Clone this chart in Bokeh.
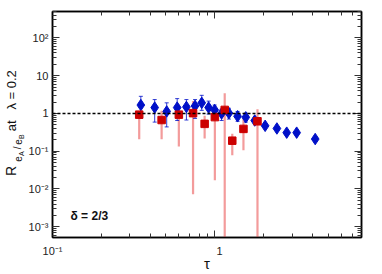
import math
from bokeh.plotting import figure
from bokeh.layouts import row
from bokeh.models import (ColumnDataSource, Range1d, FixedTicker, LogAxis, Label, Span)
from bokeh.core.properties import value
from bokeh.embed import file_html
from bokeh.resources import INLINE

# ---- data ----
blue_x = [0.35, 0.426, 0.505, 0.586, 0.668, 0.755, 0.83, 0.915, 0.997, 1.10,
          1.22, 1.38, 1.55, 1.76, 2.04, 2.41, 2.77, 3.19, 4.15]
blue_y = [1.67, 1.43, 1.13, 1.43, 1.49, 1.58, 1.91, 1.43, 1.24, 1.00,
          1.02, 0.84, 0.79, 0.65, 0.47, 0.40, 0.31, 0.31, 0.21]
blue_hi = [2.84, 2.33, 1.91, 2.47, 2.33, 2.33, 3.02, 2.12, 1.67, 1.29,
           1.37, 1.13, 1.02, 0.79, 0.52, 0.44, 0.34, 0.34, 0.23]
blue_lo = [0.74, 0.59, 0.44, 0.65, 0.67, 0.74, 1.21, 0.96, 0.79, 0.65,
           0.71, 0.62, 0.59, 0.53, 0.43, 0.36, 0.28, 0.28, 0.19]

red_x = [0.342, 0.47, 0.60, 0.734, 0.865, 1.0, 1.15, 1.28, 1.50, 1.83]
red_y = [0.93, 0.67, 0.93, 1.02, 0.53, 0.80, 1.24, 0.19, 0.39, 0.62]
red_hi = [1.15, 1.17, 1.73, 2.12, 0.87, 1.10, 3.45, 0.29, 0.75, 1.29]
red_lo = [0.207, 0.207, 0.134, 0.0073, 0.216, 0.017, 1e-6, 0.078, 0.106, 1e-6]

y_major = [1e-3, 1e-2, 1e-1, 1.0, 10.0, 100.0]
y_labels = ["10\u207b\u00b3", "10\u207b\u00b2", "10\u207b\u00b9", "1", "10", "10\u00b2"]
x_major = [0.1, 1.0]
x_labels = ["10\u207b\u00b9", "\u00a0\u00a0\u00a01"]

X_MIN, X_MAX = 0.1, 8.0
Y_MIN, Y_MAX = 5.2e-4, 500.0

def minors(lo, hi):
    out = []
    for d in range(int(math.floor(math.log10(lo))) - 1, int(math.ceil(math.log10(hi))) + 1):
        for k in range(2, 10):
            v = k * 10 ** d
            if lo <= v <= hi:
                out.append(v)
    return out

FONT = "Liberation Sans"
W, H = 382, 274
LW = 25            # width of the strip holding the y title
F_TOP, F_BOT = 11, 244   # frame top / bottom in page pixels

p = figure(width=W - LW, height=H, x_axis_type="log", y_axis_type="log",
           x_range=Range1d(X_MIN, X_MAX), y_range=Range1d(Y_MIN, Y_MAX),
           output_backend="svg", toolbar_location=None,
           min_border_left=49 - LW, min_border_right=21,
           min_border_top=F_TOP, min_border_bottom=H - F_BOT)
p.grid.visible = False
p.outline_line_color = "black"
p.outline_line_width = 1.5

xt = FixedTicker(ticks=x_major, minor_ticks=minors(X_MIN, X_MAX))
yt = FixedTicker(ticks=y_major, minor_ticks=minors(Y_MIN, Y_MAX))

def style(ax, labels=True):
    ax.axis_line_color = "black"
    ax.axis_line_width = 1.5
    ax.major_tick_in = 7
    ax.major_tick_out = 0
    ax.minor_tick_in = 4
    ax.minor_tick_out = 0
    ax.major_tick_line_color = "#333333"
    ax.minor_tick_line_color = "#333333"
    if labels:
        ax.major_label_text_font = FONT
        ax.major_label_text_font_size = "11px"
        ax.major_label_text_color = "#222222"
    else:
        ax.major_label_text_font_size = "1px"
        ax.major_label_text_color = None
        ax.major_label_standoff = 0

p.xaxis.ticker = xt
p.yaxis.ticker = yt
p.xaxis.major_label_overrides = {v: s for v, s in zip(x_major, x_labels)}
p.yaxis.major_label_overrides = {v: s for v, s in zip(y_major, y_labels)}
style(p.xaxis[0])
style(p.yaxis[0])
p.xaxis.major_label_standoff = 7
p.yaxis.major_label_standoff = 4
p.xaxis.axis_label = "\u03c4"
p.xaxis.axis_label_text_font = FONT
p.xaxis.axis_label_text_font_size = "15px"
p.xaxis.axis_label_text_font_style = "normal"
p.xaxis.axis_label_text_color = "#111111"
p.xaxis.axis_label_standoff = -5

top = LogAxis(ticker=xt)
style(top, labels=False)
p.add_layout(top, "above")
right = LogAxis(ticker=yt)
style(right, labels=False)
p.add_layout(right, "right")

# reference line at 1
p.add_layout(Span(location=1.0, dimension="width", line_color="black",
                  line_dash="3 2", line_width=1.5))

bsrc = ColumnDataSource(dict(x=blue_x, y=blue_y, hi=blue_hi, lo=blue_lo))
rsrc = ColumnDataSource(dict(x=red_x, y=red_y, hi=red_hi, lo=red_lo))

BLUE = "#0010c8"
RED = "#cc0000"

p.segment(x0="x", y0="lo", x1="x", y1="hi", source=rsrc, line_color="#ee7070",
          line_width=2.2, line_alpha=0.7)
p.segment(x0="x", y0="lo", x1="x", y1="hi", source=bsrc, line_color=BLUE,
          line_width=1, line_alpha=0.8)
p.scatter(x="x", y="hi", source=bsrc, marker="dash", size=4, line_color=BLUE, line_alpha=0.8)
p.scatter(x="x", y="lo", source=bsrc, marker="dash", size=4, line_color=BLUE, line_alpha=0.8)
p.scatter(x="x", y="y", source=bsrc, marker="diamond", size=11.5,
          fill_color=BLUE, line_color=BLUE)
p.scatter(x="x", y="y", source=rsrc, marker="square", size=7.5,
          fill_color=RED, line_color=RED)

p.add_layout(Label(x=18, y=22, x_units="screen", y_units="screen",
                   text="\u03b4 = 2/3", text_baseline="middle",
                   text_font=FONT, text_font_size="12px", text_font_style="bold",
                   text_color="#111111"))

# ---- y title strip: its frame is aligned with the main frame (page y 11..244) ----
t = figure(width=LW, height=H, x_range=Range1d(0, LW),
           y_range=Range1d(H - F_BOT, H - F_TOP),
           x_axis_location=None, y_axis_location=None,
           output_backend="svg", toolbar_location=None,
           min_border=0, min_border_left=0, min_border_right=0,
           min_border_top=0, min_border_bottom=0)
t.grid.visible = False
t.outline_line_color = None

def ttext(s, px, py, size):
    # (px, py) is the centre of the piece, in page pixels
    t.text(x=[px], y=[H - py], text=[s], angle=math.pi / 2,
           text_font=value(FONT), text_font_size=size,
           text_align="center", text_baseline="middle", text_color="#111111")

ttext("R", 10.5, 175.5, "14px")
ttext("e", 17.5, 163, "10px")
ttext("A", 21, 157.5, "7px")
ttext("/", 17, 151.5, "10px")
ttext("e", 17.5, 145.5, "10px")
ttext("B", 21, 140, "7px")
ttext("at\u00a0\u00a0\u00a0\u03bb = 0.2", 10.5, 103, "13px")

layout = row(t, p, spacing=0)
open("out.html", "w").write(file_html(layout, INLINE))
